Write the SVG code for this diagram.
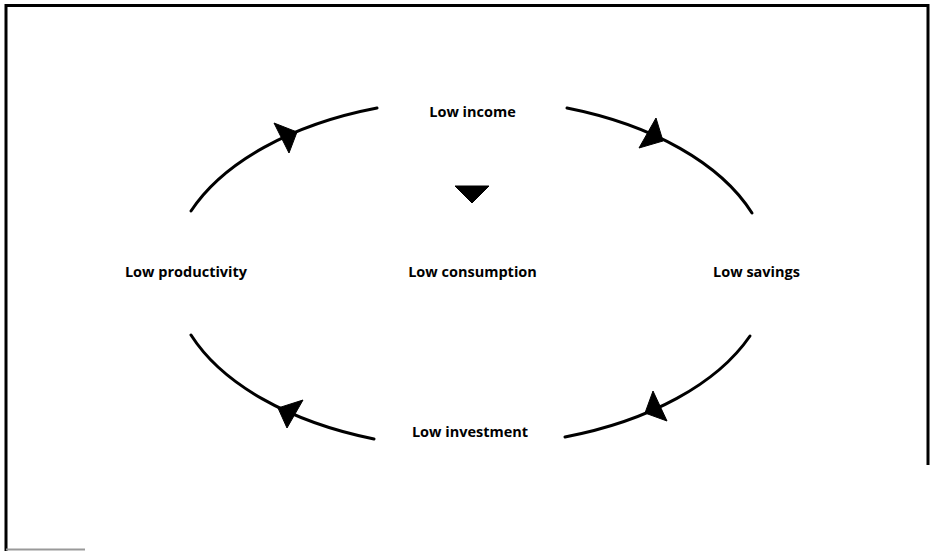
<svg xmlns="http://www.w3.org/2000/svg" width="934" height="551" viewBox="0 0 934 551">
<style>
.frame{fill:none;stroke:#000;stroke-width:3}
.arc{fill:none;stroke:#000;stroke-width:3;stroke-linecap:round}
.arrow{fill:#000;stroke:#000;stroke-width:1;stroke-linejoin:round}
.lbl{font-family:"Open Sans","Liberation Sans",sans-serif;font-weight:bold;font-size:14.5px;fill:#000;text-anchor:middle}
</style>
<rect width="934" height="551" fill="#fff"/>
<g id="frame">
<polyline class="frame" points="6,551 6,5.5 928,5.5 928,465"/>
<line x1="6" y1="549.5" x2="85" y2="549.5" stroke="#999" stroke-width="2"/>
</g>
<g id="connectors">
<path class="arc" d="M191,211 A300,174 0 0 1 377,108"/>
<polygon class="arrow" points="274,123 297,132 289,153"/>
<path class="arc" d="M567,108 A300,174 0 0 1 752,213"/>
<polygon class="arrow" points="656,118 663,141 639,148"/>
<path class="arc" d="M750,336 A300,174 0 0 1 565,437"/>
<polygon class="arrow" points="653,391 667,421 645,413"/>
<path class="arc" d="M374,439 A300,174 0 0 1 191,335"/>
<polygon class="arrow" points="303,400 287,428 278,408"/>
</g>
<g id="low-income"><text class="lbl" x="472.5" y="117">Low income</text></g>
<g id="low-consumption">
<polygon class="arrow" points="455,186 489,186 472,203"/>
<text class="lbl" x="472.5" y="277">Low consumption</text>
</g>
<g id="low-productivity"><text class="lbl" x="186" y="277">Low productivity</text></g>
<g id="low-savings"><text class="lbl" x="756.5" y="277">Low savings</text></g>
<g id="low-investment"><text class="lbl" x="470" y="437">Low investment</text></g>
</svg>
